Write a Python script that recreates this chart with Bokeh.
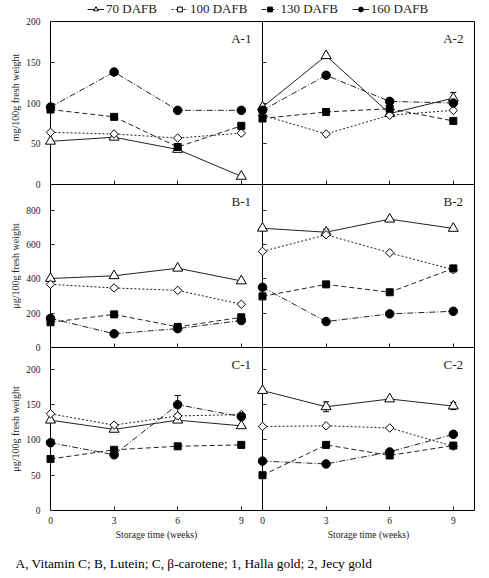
import numpy as np
from bokeh.plotting import figure
from bokeh.models import (ColumnDataSource, FixedTicker, LinearAxis, Range1d, Label,
                          Legend, LegendItem, Whisker, TeeHead, Span, CustomJSTickFormatter)
from bokeh.layouts import column
from bokeh.embed import file_html
from bokeh.resources import INLINE
from bokeh.core.properties import value

# ---------------- data ----------------
weeks = [0, 3, 6, 9]
series_names = ["70 DAFB", "100 DAFB", "130 DAFB", "160 DAFB"]
week_tick_labels = ["0", "3", "6", "9"]

# A: Vitamin C (mg/100g fresh weight); 1 = Halla gold, 2 = Jecy gold
a1_70 = [53, 58, 43, 10]
a1_100 = [64, 62, 57, 63]
a1_130 = [92, 83, 46, 72]
a1_160 = [95, 138, 91, 91]
a2_70 = [95, 158, 87, 106]
a2_100 = [85, 62, 85, 91]
a2_130 = [81, 89, 93, 78]
a2_160 = [91, 134, 102, 100]
# B: Lutein (ug/100g fresh weight)
b1_70 = [402, 418, 462, 388]
b1_100 = [368, 347, 333, 252]
b1_130 = [147, 193, 120, 176]
b1_160 = [170, 80, 110, 157]
b2_70 = [695, 672, 748, 694]
b2_100 = [560, 657, 552, 453]
b2_130 = [298, 368, 322, 461]
b2_160 = [351, 151, 196, 211]
# C: beta-carotene (ug/100g fresh weight)
c1_70 = [128, 115, 128, 120]
c1_100 = [137, 121, 134, 136]
c1_130 = [73, 86, 91, 93]
c1_160 = [96, 79, 150, 133]
c2_70 = [170, 147, 158, 148]
c2_100 = [119, 120, 117, 91]
c2_130 = [50, 93, 78, 92]
c2_160 = [70, 66, 83, 108]

# visible error bars
a2_70_err = [0, 0, 0, 7]
b2_70_err = [0, 18, 0, 0]
c1_160_err = [0, 0, 13, 0]
c2_70_err = [0, 7, 0, 5]

y_ticks_a = [0, 50, 100, 150, 200]
y_ticks_b = [0, 200, 400, 600, 800]
y_ticks_c = [0, 50, 100, 150, 200]

y_label_a = "mg/100g fresh weight"
y_label_bc = "\u03bcg/100g fresh weight"
x_label = "Storage time (weeks)"
caption = "A, Vitamin  C; B, Lutein; C, \u03b2-carotene; 1, Halla gold; 2, Jecy gold"

# ---------------- styling / layout ----------------
FONT = "Liberation Serif"
INK = "#222222"
OFFSET = 10          # second panel shifted along the shared x scale
NROWS = 3
FRAME_W, FRAME_H = 424, 489
TOP, BOTTOM, LEFT, RIGHT = 6, 62, 50, 7
LEG_H = 15
PX_PER_ROW = FRAME_H / NROWS
PX_PER_X = FRAME_W / (2 * OFFSET)
WIDTH = LEFT + FRAME_W + RIGHT

styles = [
    dict(dash="solid", marker="triangle", size=10, fill="white", angle=0.0),
    dict(dash="2 2", marker="square", size=6, fill="white", angle=np.pi / 4),
    dict(dash="5 3", marker="square", size=7, fill="black", angle=0.0),
    dict(dash="6 2 1 2", marker="circle", size=8.5, fill="black", angle=0.0),
]

rows = [
    dict(name="A", base=2, span=200, yticks=y_ticks_a,
         panels=[[a1_70, a1_100, a1_130, a1_160], [a2_70, a2_100, a2_130, a2_160]],
         errs=[(1, 0, a2_70, a2_70_err)]),
    dict(name="B", base=1, span=950, yticks=y_ticks_b,
         panels=[[b1_70, b1_100, b1_130, b1_160], [b2_70, b2_100, b2_130, b2_160]],
         errs=[(1, 0, b2_70, b2_70_err)]),
    dict(name="C", base=0, span=231, yticks=y_ticks_c,
         panels=[[c1_70, c1_100, c1_130, c1_160], [c2_70, c2_100, c2_130, c2_160]],
         errs=[(0, 3, c1_160, c1_160_err), (1, 0, c2_70, c2_70_err)]),
]

p = figure(width=WIDTH, height=TOP + FRAME_H + BOTTOM,
           x_range=Range1d(0, 2 * OFFSET), y_range=Range1d(0, NROWS),
           output_backend="svg", toolbar_location=None,
           min_border_left=LEFT, min_border_right=RIGHT,
           min_border_top=TOP, min_border_bottom=BOTTOM)
p.grid.visible = False
p.outline_line_color = "black"
p.outline_line_width = 1

for row in rows:
    b, s = row["base"], row["span"]
    p.extra_y_ranges[row["name"]] = Range1d(-b * s, (NROWS - b) * s)

# y tick positions (row values placed in their row band) and labels
tick_pos, tick_lab = [], []
for row in rows:
    for v in row["yticks"]:
        tick_pos.append(row["base"] + v / row["span"])
        tick_lab.append(str(v))

x_ticks = weeks + [w + OFFSET for w in weeks]
x_overrides = {w + k * OFFSET: lab for k in (0, 1) for w, lab in zip(weeks, week_tick_labels)}
blank = CustomJSTickFormatter(code="return ''")

# bottom x axis
xa = p.xaxis[0]
xa.ticker = FixedTicker(ticks=x_ticks)
xa.major_label_overrides = x_overrides
xa.major_tick_in = 4
xa.major_tick_out = 0
xa.minor_tick_line_color = None
xa.axis_line_color = None
xa.major_tick_line_color = INK
xa.major_label_text_font = FONT
xa.major_label_text_font_size = "9.5px"
xa.major_label_text_color = INK
xa.major_label_standoff = 6

# left y axis
ya = p.yaxis[0]
ya.ticker = FixedTicker(ticks=tick_pos)
ya.formatter = CustomJSTickFormatter(args=dict(pos=tick_pos, labs=tick_lab), code="""
let best = 0, d = 1e9;
for (let i = 0; i < pos.length; i++) { const e = Math.abs(pos[i] - tick); if (e < d) { d = e; best = i; } }
return labs[best];""")
ya.major_tick_in = 4
ya.major_tick_out = 0
ya.minor_tick_line_color = None
ya.axis_line_color = None
ya.major_tick_line_color = INK
ya.major_label_text_font = FONT
ya.major_label_text_font_size = "9.5px"
ya.major_label_text_color = INK
ya.major_label_standoff = 10

# divider between the two cultivars, with inward ticks
ya2 = LinearAxis(fixed_location=OFFSET, ticker=FixedTicker(ticks=tick_pos), formatter=blank,
                 major_tick_in=4, major_tick_out=0, minor_tick_line_color=None,
                 axis_line_color="black", major_tick_line_color=INK, major_label_standoff=0)
p.add_layout(ya2, "left")

# row separators with inward x ticks
for row in rows[:-1]:
    p.add_layout(Span(location=0, dimension="width", y_range_name=row["name"],
                      line_color="black", line_width=1))
    xr = LinearAxis(fixed_location=row["base"], ticker=FixedTicker(ticks=x_ticks), formatter=blank,
                    major_tick_in=4, major_tick_out=0, minor_tick_line_color=None,
                    axis_line_color=None, major_tick_line_color=INK, major_label_standoff=0)
    p.add_layout(xr, "below")

for row in rows:
    rn = row["name"]
    for k, series in enumerate(row["panels"]):
        for si, vals in enumerate(series):
            st = styles[si]
            src = ColumnDataSource(dict(x=[w + k * OFFSET for w in weeks], y=vals))
            p.line("x", "y", source=src, line_color=INK, line_width=1,
                   line_dash=st["dash"], y_range_name=rn)
            p.scatter("x", "y", source=src, marker=st["marker"], size=st["size"],
                      angle=st["angle"], fill_color=st["fill"], line_color="black",
                      line_width=1, level="overlay", y_range_name=rn)

    for (k, si, vals, err) in row["errs"]:
        xs, lo, hi = [], [], []
        for w, v, e in zip(weeks, vals, err):
            if e > 0:
                xs.append(w + k * OFFSET)
                lo.append(v - e)
                hi.append(v + e)
        esrc = ColumnDataSource(dict(x=xs, lower=lo, upper=hi))
        p.add_layout(Whisker(base="x", lower="lower", upper="upper", source=esrc,
                             y_range_name=rn, line_color="black", line_width=1,
                             upper_head=TeeHead(size=6, line_color="black", line_width=1),
                             lower_head=TeeHead(size=6, line_color="black", line_width=1)))

    for k in (0, 1):
        p.add_layout(Label(x=9 + k * OFFSET, y=row["base"] + 1 - 17 / PX_PER_ROW,
                           text=f"{rn}-{k + 1}", text_align="center",
                           text_baseline="middle", text_font=FONT,
                           text_font_size="13px", text_color=INK))

# rotated y-axis titles, one per row
ylab_src = ColumnDataSource(dict(
    x=[-35 / PX_PER_X] * 3,
    y=[2.5 + 5.5 / PX_PER_ROW, 1.5, 0.5],
    t=[y_label_a, y_label_bc, y_label_bc]))
p.text("x", "y", text="t", source=ylab_src, angle=np.pi / 2, text_align="center",
       text_baseline="middle", text_font=value(FONT), text_font_size=value("10px"),
       text_color=INK, level="overlay")

# x-axis titles under each panel
xlab_src = ColumnDataSource(dict(x=[5, 5 + OFFSET], y=[-24.2 / PX_PER_ROW] * 2, t=[x_label] * 2))
p.text("x", "y", text="t", source=xlab_src, text_align="center", text_baseline="middle",
       text_font=value(FONT), text_font_size=value("9.6px"), text_color=INK, level="overlay")

# caption
cap_src = ColumnDataSource(dict(x=[-35 / PX_PER_X], y=[-53.2 / PX_PER_ROW], t=[caption]))
p.text("x", "y", text="t", source=cap_src, text_align="left", text_baseline="middle",
       text_font=value(FONT), text_font_size=value("13.4px"), text_color="black", level="overlay")

# ---------------- legend strip ----------------
# legend renderers reuse panel A-1 series; the strip's ranges keep their marks out of view
# (the strip's frame is aligned with the main frame, which starts at x = LEFT)
lg = figure(width=WIDTH, height=LEG_H, x_range=Range1d(100, 101), y_range=Range1d(1000, 1001),
            x_axis_type=None, y_axis_type=None,
            output_backend="svg", toolbar_location=None,
            min_border_left=0, min_border_right=0, min_border_top=0, min_border_bottom=0)
lg.outline_line_color = None
items = []
for si, name in enumerate(series_names):
    st = styles[si]
    src = ColumnDataSource(dict(x=weeks, y=rows[0]["panels"][0][si]))
    lr = lg.line("x", "y", source=src, line_color=INK, line_width=1, line_dash=st["dash"])
    sr = lg.scatter("x", "y", source=src, marker=st["marker"], size=st["size"],
                    angle=st["angle"], fill_color=st["fill"], line_color="black", line_width=1)
    items.append(LegendItem(label=name, renderers=[lr, sr]))
legend = Legend(items=items, orientation="horizontal", location=(37, -1.5),
                padding=0, margin=0, spacing=14, glyph_width=17, glyph_height=12,
                label_height=12, label_standoff=2, label_text_font=FONT,
                label_text_font_size="13px", label_text_color=INK,
                label_text_baseline="middle",
                background_fill_alpha=0, border_line_color=None)
lg.add_layout(legend)

layout = column(lg, p, spacing=0)

open("out.html", "w").write(file_html(layout, INLINE))
